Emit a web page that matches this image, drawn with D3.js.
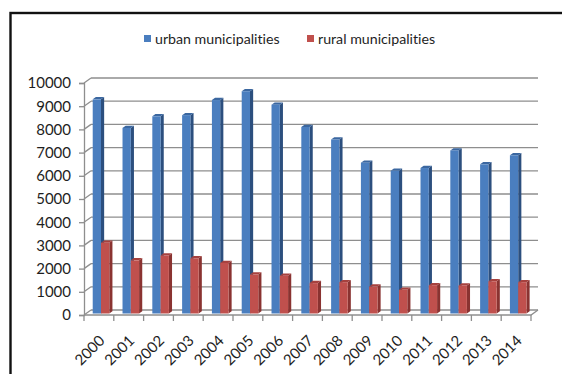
<!DOCTYPE html>
<html>
<head>
<meta charset="utf-8">
<script src="https://cdn.jsdelivr.net/npm/d3@7"></script>
<style>
  html, body { margin: 0; padding: 0; background: #fff; }
  svg { display: block; }
  text { font-family: Lato, "Open Sans", sans-serif; fill: #1e1e1e; font-variant-ligatures: none; font-feature-settings: "liga" 0, "dlig" 0; }
</style>
</head>
<body>
<svg id="chart" width="562" height="374"></svg>
<script>
// Number of registered cases per year, by municipality type
const years = ["2000","2001","2002","2003","2004","2005","2006","2007",
               "2008","2009","2010","2011","2012","2013","2014"];
const urban = [9230, 8000, 8500, 8550, 9200, 9580, 9000, 8040,
               7500, 6500, 6150, 6270, 7030, 6430, 6820];
const rural = [3050, 2290, 2500, 2380, 2180, 1680, 1630, 1310,
               1350, 1160, 1020, 1220, 1210, 1390, 1350];
const seriesNames = ["urban municipalities", "rural municipalities"];
const yTicks = [0, 1000, 2000, 3000, 4000, 5000, 6000, 7000, 8000, 9000, 10000];

const svg = d3.select("#chart");

// frame around the chart area (runs off the right and bottom edges)
svg.append("rect")
  .attr("x", 10.5).attr("y", 13)
  .attr("width", 620).attr("height", 420)
  .attr("fill", "none").attr("stroke", "#111").attr("stroke-width", 2.4);

// front plane of the 3-D plot box, plus the depth offset of the back wall
const x0 = 84, x1 = 531;
const depth = { x: 7, y: -5 };
const y = d3.scaleLinear().domain([0, 10000]).range([315, 83]);
const x = d3.scaleBand().domain(years).range([x0, x1])
  .paddingInner(0.444).paddingOuter(0.222);
const xSub = d3.scaleBand().domain(["urban", "rural"]).range([0, x.bandwidth()]);

const gridColor = "#8e8e8e";
const grid = svg.append("g").attr("stroke", gridColor).attr("stroke-width", 1.3).attr("fill", "none");

// back-wall gridlines and the short side-wall segments that join them to the front axis
yTicks.forEach(v => {
  grid.append("line")
    .attr("x1", x0 + depth.x).attr("x2", x1 + depth.x)
    .attr("y1", y(v) + depth.y).attr("y2", y(v) + depth.y);
  grid.append("line")
    .attr("x1", x0).attr("x2", x0 + depth.x)
    .attr("y1", y(v)).attr("y2", y(v) + depth.y);
});

// floor: front edge and right side
grid.append("path")
  .attr("d", `M${x0},${y(0)} L${x1},${y(0)} L${x1 + depth.x},${y(0) + depth.y}`);

// value axis on the front plane
const yAxis = d3.axisLeft(y).tickValues(yTicks).tickSize(5).tickPadding(8)
  .tickFormat(d3.format("d"));
const yg = svg.append("g").attr("transform", `translate(${x0},0)`).call(yAxis);
yg.select(".domain").attr("stroke", gridColor).attr("stroke-width", 1.3);
yg.selectAll(".tick line").attr("stroke", gridColor).attr("stroke-width", 1.3);
yg.selectAll(".tick text")
  .attr("font-size", 15).attr("font-family", "Lato, sans-serif").attr("fill", "#1e1e1e");

// category axis ticks at band boundaries
const step = x.step();
const bounds = d3.range(years.length + 1).map(i => x0 + i * step);
svg.append("g").selectAll("line").data(bounds).join("line")
  .attr("x1", d => d).attr("x2", d => d)
  .attr("y1", y(0)).attr("y2", y(0) + 6)
  .attr("stroke", gridColor).attr("stroke-width", 1.3);

// year labels, rotated
svg.append("g").selectAll("text").data(years).join("text")
  .attr("transform", d => `translate(${x(d) + x.bandwidth() / 2 + 3},${y(0) + 23}) rotate(-45)`)
  .attr("text-anchor", "end")
  .attr("dy", "0.35em")
  .attr("font-size", 15)
  .text(d => d);

// 3-D columns: front face, right side and top cap
const barDepthPos = 0.3;                     // front face position inside the box depth
const side = { x: 3.15, y: -2.25 };          // column thickness in depth
const palette = {
  urban: { face: "#4a7ebf", side: "#2c4f7e", top: "#3b67a0" },
  rural: { face: "#c0504d", side: "#8a3331", top: "#a6413e" }
};

const bars = [];
years.forEach((yr, i) => {
  bars.push({ year: yr, key: "urban", value: urban[i] });
  bars.push({ year: yr, key: "rural", value: rural[i] });
});

const barG = svg.append("g");
bars.forEach(b => {
  const w = xSub.bandwidth();
  const fx = x(b.year) + xSub(b.key) + depth.x * barDepthPos;
  const fy = y(b.value) + depth.y * barDepthPos;
  const base = y(0) + depth.y * barDepthPos;
  const c = palette[b.key];
  const g = barG.append("g");
  g.append("path")
    .attr("d", `M${fx + w},${fy} L${fx + w + side.x},${fy + side.y} L${fx + w + side.x},${base + side.y} L${fx + w},${base} Z`)
    .attr("fill", c.side);
  g.append("path")
    .attr("d", `M${fx},${fy} L${fx + side.x},${fy + side.y} L${fx + w + side.x},${fy + side.y} L${fx + w},${fy} Z`)
    .attr("fill", c.top);
  g.append("rect")
    .attr("x", fx).attr("y", fy)
    .attr("width", w).attr("height", base - fy)
    .attr("fill", c.face);
});

// legend
const legend = svg.append("g");
const legendItems = [
  { name: seriesNames[0], color: palette.urban.face, x: 144 },
  { name: seriesNames[1], color: palette.rural.face, x: 307 }
];
legendItems.forEach(it => {
  legend.append("rect")
    .attr("x", it.x).attr("y", 35).attr("width", 7).attr("height", 7)
    .attr("fill", it.color);
  legend.append("text")
    .attr("x", it.x + 11).attr("y", 44)
    .attr("font-size", 14.2)
    .text(it.name);
});
</script>
</body>
</html>
